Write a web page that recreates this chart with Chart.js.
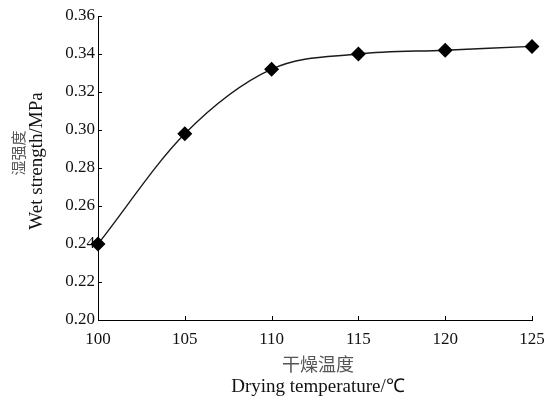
<!DOCTYPE html>
<html><head><meta charset="utf-8">
<script src="https://cdn.jsdelivr.net/npm/chart.js@4/dist/chart.umd.min.js"></script>
<style>html,body{margin:0;padding:0;background:#fff}#wrap{width:549px;height:400px}</style>
</head><body><div id="wrap"><canvas id="c" width="549" height="400"></canvas></div>
<script>
const temperatures = [100, 105, 110, 115, 120, 125];
const wetStrength = [0.240, 0.298, 0.332, 0.340, 0.342, 0.344];
const yTitleCN = '湿强度';
const yTitleEN = 'Wet strength/MPa';
const xTitleCN = '干燥温度';
const xTitleEN = 'Drying temperature/℃';

const serif = '"Liberation Serif", "Times New Roman", serif';
const cjk = '"Noto Sans CJK SC", sans-serif';

const inwardTicks = {
  id: 'inwardTicks',
  afterDraw(chart) {
    const ctx = chart.ctx, xs = chart.scales.x, ys = chart.scales.y;
    ctx.save();
    ctx.strokeStyle = '#000'; ctx.lineWidth = 1;
    ctx.beginPath();
    ys.ticks.forEach(t => { const y = Math.round(ys.getPixelForValue(t.value)) + 0.5; ctx.moveTo(xs.left, y); ctx.lineTo(xs.left + 4, y); });
    xs.ticks.forEach(t => { const x = Math.round(xs.getPixelForValue(t.value)) + 0.5; ctx.moveTo(x, ys.bottom); ctx.lineTo(x, ys.bottom - 4); });
    ctx.stroke();
    ctx.textAlign = 'center'; ctx.textBaseline = 'middle';
    ctx.fillStyle = '#555'; ctx.font = '18px ' + cjk;
    ctx.fillText(xTitleCN, 318, 364);
    ctx.fillStyle = '#111'; ctx.font = '19px ' + serif;
    ctx.fillText(xTitleEN, 318, 387);
    ctx.save();
    ctx.translate(18, 153); ctx.rotate(-Math.PI / 2);
    ctx.fillStyle = '#555'; ctx.font = '15px ' + cjk;
    ctx.fillText(yTitleCN, 0, 0);
    ctx.restore();
    ctx.save();
    ctx.translate(37, 161); ctx.rotate(-Math.PI / 2);
    ctx.fillStyle = '#111'; ctx.font = '19px ' + serif;
    ctx.fillText(yTitleEN, 0, 0);
    ctx.restore();
    ctx.restore();
  }
};

new Chart(document.getElementById('c'), {
  type: 'line',
  data: {
    datasets: [{
      data: temperatures.map((t, i) => ({ x: t, y: wetStrength[i] })),
      borderColor: '#1a1a1a', borderWidth: 1.4,
      backgroundColor: '#000',
      pointStyle: 'rectRot', pointRadius: 6.5, pointHoverRadius: 6.5,
      pointBackgroundColor: '#000', pointBorderColor: '#000',
      cubicInterpolationMode: 'monotone', fill: false, clip: false
    }]
  },
  options: {
    responsive: false, animation: false,
    layout: { padding: { left: 0, right: 17, top: 16, bottom: 0 } },
    plugins: { legend: { display: false }, tooltip: { enabled: false } },
    scales: {
      x: {
        type: 'linear', min: 100, max: 125,
        grid: { display: false, drawTicks: false },
        border: { display: true, color: '#000', width: 1 },
        ticks: { stepSize: 5, padding: 9, color: '#111', font: { family: serif, size: 17 } },
        afterFit(s) { s.height = 80; s.paddingLeft = 0; s.paddingRight = 0; }
      },
      y: {
        min: 0.20, max: 0.36,
        grid: { display: false, drawTicks: false },
        border: { display: true, color: '#000', width: 1 },
        ticks: { stepSize: 0.02, padding: 3, color: '#111', font: { family: serif, size: 17 }, callback: v => v.toFixed(2) },
        afterFit(s) { s.width = 98; s.paddingTop = 0; s.paddingBottom = 0; }
      }
    }
  },
  plugins: [inwardTicks]
});
</script></body></html>
